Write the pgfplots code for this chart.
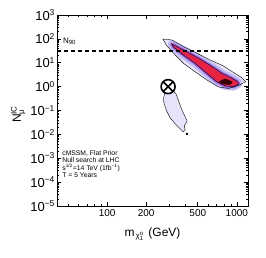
\documentclass[border=0pt]{standalone}
\usepackage{amsmath}
\usepackage{pgfplots}
\pgfplotsset{compat=1.18}
\usepackage{fontspec}
\setmainfont{Liberation Sans}
\definecolor{lavA}{HTML}{E9E5FA}
\definecolor{lavB}{HTML}{C6BCF4}
\definecolor{viol}{HTML}{8E7FE6}
\definecolor{mag}{HTML}{C8389C}
\definecolor{redc}{HTML}{E8223F}
\definecolor{core}{HTML}{3A0008}
\definecolor{plume}{HTML}{E8E3FA}
\newcommand{\tp}[1]{10\textsuperscript{\fontsize{8.5}{8.5}\selectfont #1}}
\begin{document}
\begin{tikzpicture}
\begin{axis}[
  name=ax,
  scale only axis,
  width=191pt, height=191pt,
  xmode=log, ymode=log,
  xmin=41, xmax=1220, ymin=1e-5, ymax=1e3,
  xtick={100,200,500,1000},
  xticklabels={100,200,500,1000},
  minor xtick={50,60,70,80,90,300,400,600,700,800,900},
  ytick={1e-5,1e-4,1e-3,1e-2,1e-1,1,10,100,1000},
  yticklabels={\tp{−5},\tp{−4},\tp{−3},\tp{−2},\tp{−1},\tp{0},\tp{1},\tp{2},\tp{3}},
  x tick label style={font=\fontsize{10}{10}\selectfont},
  y tick label style={font=\fontsize{13}{13}\selectfont, xshift=1.5pt},
  /pgf/number format/assume math mode=true,
  major tick length=4pt, minor tick length=2pt,
  tick style={black, line width=0.6pt},
  axis line style={line width=0.8pt},
  xlabel={m\kern1pt$_{\text{χ}_{\text{1}}^{\text{o}}}$\kern1pt\ (GeV)},
  ylabel={N$_{\text{μ}}^{\text{IC}}$},
  xlabel style={font=\fontsize{12}{12}\selectfont, yshift=-4pt},
  ylabel style={font=\fontsize{12}{12}\selectfont, at={(ticklabel cs:0.48)}},
  ylabel shift=-2pt,
  axis on top,
]
% plume (lower region)
\addplot[fill=plume, draw=black, line width=0.4pt] coordinates {
 (280,0.60) (270,0.278) (285,0.106) (306,0.049) (335,0.0275) (366,0.017) (386,0.0127)
 (400,0.0154) (393,0.0227) (414,0.0367) (393,0.0655) (372,0.128) (353,0.278) (340,0.495) (318,0.73)
} -- cycle;
% outer main contour
\addplot[fill=lavA, draw=none] coordinates {
 (269,99) (315,90) (388,47) (492,25) (624,13) (789,7.3) (944,3.9) (1090,2.4) (1170,1.6)
 (1031,1.12) (863,0.84) (722,0.97) (588,1.9) (477,4.2) (388,9.5) (325,25) (285,56)
} -- cycle;
% halos around inner contour
\addplot[draw=lavB, line width=8pt, line join=round] coordinates {
 (315,61) (388,34) (506,15.4) (643,6.9) (767,3.6) (916,2.24) (1012,1.62) (1031,1.30)
 (944,1.0) (813,1.07) (701,1.62) (588,3.6) (477,9.5) (388,21) (325,45)
} -- cycle;
\addplot[draw=viol, line width=3.5pt, line join=round] coordinates {
 (315,61) (388,34) (506,15.4) (643,6.9) (767,3.6) (916,2.24) (1012,1.62) (1031,1.30)
 (944,1.0) (813,1.07) (701,1.62) (588,3.6) (477,9.5) (388,21) (325,45)
} -- cycle;
% inner region (red with magenta edge)
\addplot[fill=redc, draw=mag, line width=1.6pt, line join=round] coordinates {
 (315,61) (388,34) (506,15.4) (643,6.9) (767,3.6) (916,2.24) (1012,1.62) (1031,1.30)
 (944,1.0) (813,1.07) (701,1.62) (588,3.6) (477,9.5) (388,21) (325,45)
} -- cycle;
% core
\addplot[fill=core, draw=none, smooth] coordinates {
 (719,1.57) (813,2.1) (923,1.57) (875,1.18) (771,1.30)
} -- cycle;
% contour lines
\addplot[draw=black, line width=0.4pt] coordinates {
 (269,99) (315,90) (388,47) (492,25) (624,13) (789,7.3) (944,3.9) (1090,2.4) (1170,1.6)
 (1031,1.12) (863,0.84) (722,0.97) (588,1.9) (477,4.2) (388,9.5) (325,25) (285,56)
} -- cycle;
\addplot[draw=black, line width=0.4pt] coordinates {
 (315,61) (388,34) (506,15.4) (643,6.9) (767,3.6) (916,2.24) (1012,1.62) (1031,1.30)
 (944,1.0) (813,1.07) (701,1.62) (588,3.6) (477,9.5) (388,21) (325,45)
} -- cycle;
% N90 line
\addplot[black, line width=1.4pt, dash pattern=on 4pt off 3pt] coordinates {(41,31) (1220,31)};
% dot
\addplot[only marks, mark=*, mark size=1pt, black] coordinates {(412,0.0105)};
% circled X
\addplot[only marks, mark=otimes*, mark size=7pt, line width=1.6pt, black, mark options={fill=white}] coordinates {(295,1)};
\node[anchor=base west, font=\fontsize{8}{8}\selectfont, inner sep=0pt] at (axis cs:45.5,67) {N$_{\text{\fontsize{6}{6}\selectfont 90}}$};
\node[anchor=north west, align=left, font=\fontsize{6.8}{7.2}\selectfont, inner sep=0pt] at (rel axis cs:0.027,0.29)
 {cMSSM, Flat Prior\\Null search at LHC\\s\textsuperscript{1/2}=14 TeV (1fb\textsuperscript{−1})\\T = 5 Years};
\node[anchor=south east, font=\fontsize{7}{7}\selectfont\itshape, inner sep=0pt] at ([yshift=2pt]rel axis cs:1,1) {Bertone et al. (2011)};
\end{axis}
\pgfresetboundingbox
\path ([shift={(-57pt,-51pt)}]ax.south west) rectangle ([shift={(18pt,15pt)}]ax.north east);
\end{tikzpicture}
\end{document}
